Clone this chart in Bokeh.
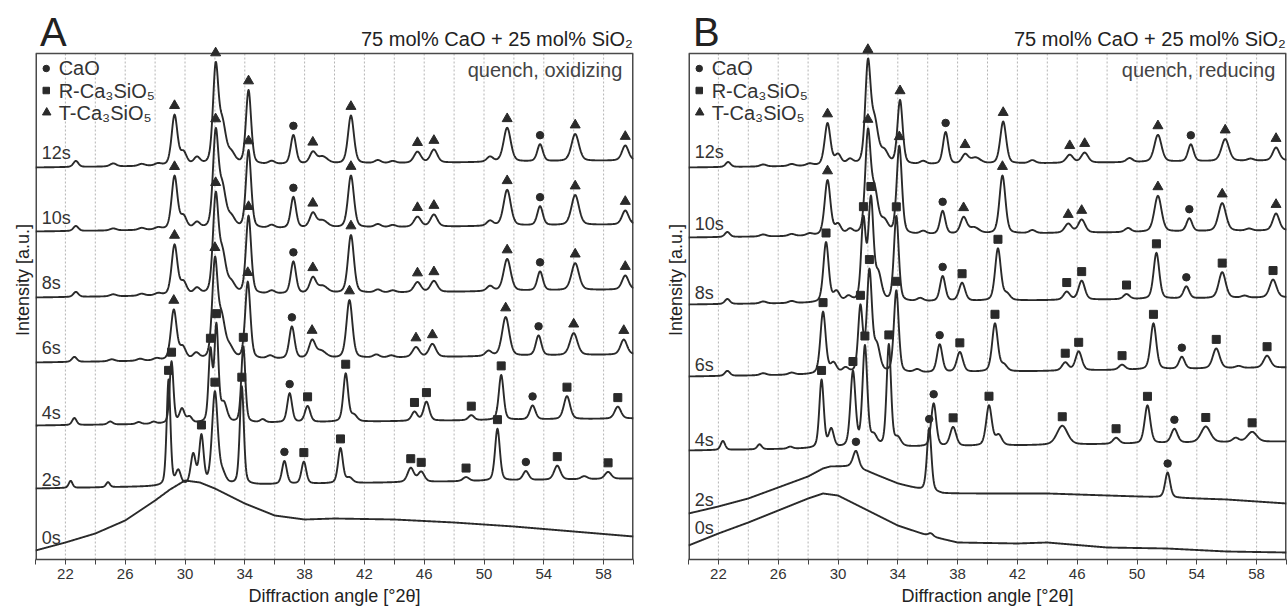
import numpy as np
from bokeh.plotting import figure
from bokeh.layouts import row
from bokeh.models import Range1d, FixedTicker
from bokeh.core.properties import value
from bokeh.embed import file_html
from bokeh.resources import INLINE

FONT = "Liberation Sans"
INK = "#2a2a2a"

# ---------------- data ----------------
X_TICKS = [22, 26, 30, 34, 38, 42, 46, 50, 54, 58]
X_MINOR = [20, 24, 28, 32, 36, 40, 44, 48, 52, 56, 60]
GRID_X = [22, 24, 26, 28, 30, 32, 34, 36, 38, 40, 42, 44, 46, 48, 50, 52, 54, 56, 58]
SCANS = ["12s", "10s", "8s", "6s", "4s", "2s", "0s"]
LEGEND_NAMES = ["CaO", "R-Ca\u2083SiO\u2085", "T-Ca\u2083SiO\u2085"]
LEGEND_MARKERS = ["circle", "square", "triangle"]
PHASE_MARKER = {"C": "circle", "R": "square", "T": "triangle"}

# ---- Panel A: quench, oxidizing ----
A_LABEL_Y = [407, 342, 277, 212, 147, 80, 22]

A12_bx = [20, 60]; A12_by = [392, 399]
A12_pos = [22.7, 25.2, 27.1, 28.2, 29.3, 29.9, 30.8, 32.05, 32.5, 33.1, 34.25, 35.8, 37.25, 38.55, 39.2, 41.1, 42.9, 43.9, 45.55, 46.65, 50.4, 51.55, 53.75, 56.1, 59.45]
A12_h = [6, 3, 2, 2, 50, 12, 7, 95, 38, 10, 74, 3, 29, 11, 7, 48, 3, 2, 11, 13, 5, 34, 17, 27, 15]
A12_w = [0.4, 0.5, 0.5, 0.5, 0.46, 0.5, 0.5, 0.43, 0.55, 0.6, 0.41, 0.5, 0.42, 0.5, 0.8, 0.47, 0.5, 0.5, 0.55, 0.55, 0.5, 0.57, 0.44, 0.6, 0.52]
A12_mk = [29.3, 32.05, 34.25, 37.25, 38.55, 41.1, 45.55, 46.65, 51.55, 53.75, 56.1, 59.45]
A12_ph = ["T", "T", "T", "C", "T", "T", "T", "T", "T", "C", "T", "T"]

A10_bx = [20, 60]; A10_by = [328, 335]
A10_pos = A12_pos
A10_h = [5, 2, 2, 2, 53, 12, 6, 93, 38, 10, 78, 3, 31, 14, 7, 52, 3, 2, 10, 12, 5, 36, 19, 30, 14]
A10_w = A12_w
A10_mk = A12_mk
A10_ph = A12_ph

A8_bx = [20, 60]; A8_by = [262, 270]
A8_pos = A12_pos
A8_h = [5, 2, 2, 2, 50, 12, 6, 95, 38, 10, 78, 3, 32, 15, 7, 58, 3, 2, 10, 11, 5, 32, 19, 27, 14]
A8_w = A12_w
A8_mk = A12_mk
A8_ph = A12_ph

A6_bx = [20, 60]; A6_by = [197, 205]
A6_pos = [22.6, 25.1, 27.0, 28.1, 29.25, 29.85, 30.75, 32.0, 32.45, 33.0, 34.2, 35.7, 37.15, 38.5, 39.1, 41.0, 42.8, 43.8, 45.45, 46.55, 50.3, 51.45, 53.65, 56.0, 59.35]
A6_h = [5, 2, 2, 2, 50, 12, 6, 95, 38, 10, 77, 3, 32, 17, 7, 58, 3, 2, 10, 13, 5, 39, 20, 22, 15]
A6_w = A12_w
A6_mk = [29.25, 32.0, 34.2, 37.15, 38.5, 41.0, 45.45, 46.55, 51.45, 53.65, 56.0, 59.35]
A6_ph = A12_ph

A4_bx = [20, 60]; A4_by = [134, 141]
A4_pos = [22.6, 25.0, 26.9, 27.9, 29.1, 29.8, 30.3, 31.7, 32.1, 32.6, 33.9, 35.2, 37.0, 38.2, 40.75, 41.3, 45.35, 46.15, 49.15, 51.15, 53.25, 55.55, 58.95]
A4_h = [7, 3, 2, 2, 62, 14, 6, 70, 95, 18, 76, 3, 29, 16, 48, 6, 9, 19, 5, 45, 14, 23, 12]
A4_w = [0.35, 0.4, 0.4, 0.4, 0.3, 0.4, 0.4, 0.3, 0.32, 0.5, 0.32, 0.4, 0.38, 0.42, 0.38, 0.5, 0.45, 0.45, 0.45, 0.38, 0.45, 0.5, 0.5]
A4_mk = [29.1, 31.7, 32.1, 33.9, 37.0, 38.2, 40.75, 45.35, 46.15, 49.15, 51.15, 53.25, 55.55, 58.95]
A4_ph = ["R", "R", "R", "R", "C", "R", "R", "R", "R", "R", "R", "C", "R", "R"]

A2_bx = [20, 60]; A2_by = [71, 81]
A2_pos = [22.35, 24.85, 28.9, 29.55, 30.55, 31.1, 32.0, 32.5, 33.8, 36.65, 37.95, 40.4, 41.0, 45.1, 45.8, 48.8, 50.9, 52.8, 54.9, 56.7, 58.3]
A2_h = [7, 5, 106, 14, 30, 48, 92, 10, 98, 23, 22, 35, 5, 14, 10, 4, 52, 9, 14, 3, 7]
A2_w = [0.3, 0.3, 0.3, 0.4, 0.4, 0.35, 0.45, 0.5, 0.32, 0.38, 0.38, 0.38, 0.5, 0.5, 0.5, 0.5, 0.38, 0.45, 0.5, 0.5, 0.5]
A2_mk = [28.9, 31.1, 32.0, 33.8, 36.65, 37.95, 40.4, 45.1, 45.8, 48.8, 50.9, 52.8, 54.9, 58.3]
A2_ph = ["R", "R", "R", "R", "C", "R", "R", "R", "R", "R", "R", "C", "R", "R"]

A0_bx = [20, 22, 24, 26, 28, 29, 30, 31, 32, 34, 36, 38, 40, 44, 48, 52, 56, 60]
A0_by = [9, 17, 26, 39, 59, 70, 79, 77, 71, 56, 44, 40, 41, 40, 37, 33, 28, 23]
A0_pos = []; A0_h = []; A0_w = []; A0_mk = []; A0_ph = []

# ---- Panel B: quench, reducing ----
B_LABEL_Y = [408, 336, 267, 195, 120, 60, 32]

B12_bx = [20, 60]; B12_by = [392, 399]
B12_pos = [22.65, 25.0, 26.9, 28.1, 29.3, 30.0, 30.8, 32.0, 32.45, 33.1, 34.15, 35.7, 37.2, 38.5, 39.2, 41.05, 43.0, 45.5, 46.5, 49.5, 51.4, 53.6, 55.9, 57.6, 59.3]
B12_h = [5, 2, 2, 2, 42, 10, 5, 98, 40, 12, 64, 3, 32, 9, 6, 42, 3, 8, 10, 4, 27, 17, 22, 2, 13]
B12_w = [0.4, 0.5, 0.5, 0.5, 0.46, 0.5, 0.5, 0.43, 0.55, 0.6, 0.41, 0.5, 0.42, 0.5, 0.8, 0.47, 0.5, 0.55, 0.55, 0.5, 0.57, 0.44, 0.6, 0.5, 0.52]
B12_mk = [29.3, 32.0, 34.15, 37.2, 38.5, 41.05, 45.5, 46.5, 51.4, 53.6, 55.9, 59.3]
B12_ph = ["T", "T", "T", "C", "T", "T", "T", "T", "T", "C", "T", "T"]

B10_bx = [20, 60]; B10_by = [322, 329]
B10_pos = [22.6, 25.0, 26.9, 28.1, 29.3, 30.0, 30.8, 32.0, 32.45, 33.1, 34.1, 35.7, 37.0, 38.4, 39.1, 41.0, 43.0, 45.4, 46.3, 49.4, 51.4, 53.5, 55.7, 57.5, 59.3]
B10_h = [5, 2, 2, 2, 55, 10, 5, 98, 40, 12, 88, 3, 23, 16, 6, 58, 3, 9, 13, 4, 36, 13, 28, 2, 17]
B10_w = B12_w
B10_mk = [29.3, 32.0, 34.1, 37.0, 38.4, 41.0, 45.4, 46.3, 51.4, 53.5, 55.7, 59.3]
B10_ph = B12_ph

B8_bx = [20, 60]; B8_by = [255, 262]
B8_pos = [22.6, 25.0, 26.9, 29.2, 29.9, 30.7, 31.7, 32.2, 32.7, 33.9, 35.5, 37.0, 38.3, 40.7, 41.3, 45.3, 46.3, 49.3, 51.3, 53.3, 55.7, 57.2, 59.1]
B8_h = [5, 2, 2, 60, 10, 5, 80, 100, 25, 85, 3, 25, 18, 52, 6, 8, 19, 5, 46, 12, 26, 2, 18]
B8_w = [0.4, 0.5, 0.5, 0.42, 0.5, 0.5, 0.36, 0.4, 0.5, 0.38, 0.5, 0.42, 0.48, 0.45, 0.5, 0.5, 0.5, 0.5, 0.45, 0.45, 0.55, 0.5, 0.55]
B8_mk = [29.2, 31.7, 32.2, 33.9, 37.0, 38.3, 40.7, 45.3, 46.3, 49.3, 51.3, 53.3, 55.7, 59.1]
B8_ph = ["R", "R", "R", "R", "C", "R", "R", "R", "R", "R", "R", "C", "R", "R"]

B6_bx = [20, 60]; B6_by = [183, 192]
B6_pos = [22.6, 25.0, 26.9, 29.0, 29.7, 30.5, 31.5, 32.1, 32.6, 33.9, 35.3, 36.8, 38.15, 40.5, 41.1, 45.2, 46.1, 49.0, 51.1, 53.0, 55.3, 56.8, 58.7]
B6_h = [5, 2, 2, 62, 10, 5, 65, 100, 25, 82, 3, 28, 20, 48, 6, 8, 19, 5, 46, 12, 20, 2, 12]
B6_w = B8_w
B6_mk = [29.0, 31.5, 32.1, 33.9, 36.8, 38.15, 40.5, 45.2, 46.1, 49.0, 51.1, 53.0, 55.3, 58.7]
B6_ph = ["R", "R", "R", "R", "C", "R", "R", "R", "R", "R", "R", "C", "R", "R"]

B4_bx = [20, 60]; B4_by = [109, 118]
B4_pos = [22.3, 24.75, 26.8, 28.9, 29.55, 31.0, 31.8, 32.4, 33.4, 34.0, 36.4, 37.7, 40.1, 40.75, 45.0, 48.6, 50.7, 52.5, 54.6, 56.6, 57.7]
B4_h = [9, 5, 2, 68, 18, 75, 100, 10, 102, 8, 43, 19, 40, 10, 19, 6, 38, 14, 16, 4, 10]
B4_w = [0.35, 0.35, 0.4, 0.35, 0.4, 0.4, 0.38, 0.5, 0.35, 0.5, 0.4, 0.48, 0.45, 0.5, 0.85, 0.5, 0.45, 0.5, 0.75, 0.5, 0.75]
B4_mk = [28.9, 31.0, 31.8, 33.4, 36.4, 37.7, 40.1, 45.0, 48.6, 50.7, 52.5, 54.6, 57.7]
B4_ph = ["R", "R", "R", "R", "C", "R", "R", "R", "R", "R", "C", "R", "R"]

B2_bx = [20, 22, 24, 26, 28, 29, 29.5, 30.9, 32, 34, 35.5, 37, 38, 44, 48, 52, 56, 60]
B2_by = [46, 53, 61, 72, 83, 91, 93, 93, 88, 76, 70, 66, 66, 66, 64, 62, 60, 56]
B2_pos = [31.2, 36.1, 52.05]
B2_h = [17, 63, 25]
B2_w = [0.45, 0.35, 0.4]
B2_mk = [31.2, 36.1, 52.05]
B2_ph = ["C", "C", "C"]

B0_bx = [20, 22, 24, 26, 28, 29, 30, 32, 34, 36, 38, 42, 44, 48, 52, 56, 60]
B0_by = [14, 26, 37, 49, 61, 66, 64, 49, 34, 24, 17, 16, 17, 12, 11, 8, 7]
B0_pos = [36.2]; B0_h = [3]; B0_w = [0.4]; B0_mk = []; B0_ph = []

# ---------------- drawing ----------------
XS = np.linspace(20, 60, 1601)
BOX_TOP = 506
MARK_GAP = 9


def pattern(bx, by, pos, h, w):
    y = np.interp(XS, bx, by).astype(float)
    for c, a, fw in zip(pos, h, w):
        d = (XS - c) / fw
        y += a * (0.35 / (1 + 4 * d * d) + 0.65 * np.exp(-4 * np.log(2) * d * d))
    return y


def make_panel(letter, subtitle, scans, label_y, width, left, right):
    p = figure(width=width, height=608, x_range=Range1d(20, 60), y_range=Range1d(0, 559),
               output_backend="svg", toolbar_location=None,
               min_border_left=left, min_border_right=right, min_border_top=0, min_border_bottom=49)
    p.outline_line_color = None
    p.grid.visible = False
    p.background_fill_color = "white"
    p.border_fill_color = "white"

    xa = p.xaxis[0]
    xa.ticker = FixedTicker(ticks=X_TICKS, minor_ticks=X_MINOR)
    xa.major_tick_out = 5; xa.major_tick_in = 0
    xa.minor_tick_out = 5; xa.minor_tick_in = 0
    xa.axis_line_color = "#444444"; xa.axis_line_width = 1.5
    xa.major_tick_line_color = "#444444"; xa.minor_tick_line_color = "#444444"
    xa.major_label_text_font = FONT; xa.major_label_text_font_size = "15px"
    xa.major_label_text_color = "#333333"; xa.major_label_standoff = 4
    xa.axis_label = "Diffraction angle [\u00b02\u03b8]"
    xa.axis_label_text_font = FONT; xa.axis_label_text_font_size = "18px"
    xa.axis_label_text_font_style = "normal"; xa.axis_label_text_color = "#222222"
    xa.axis_label_standoff = 4

    ya = p.yaxis[0]
    ya.ticker = FixedTicker(ticks=[])
    ya.axis_line_color = None
    ya.major_tick_out = 0; ya.minor_tick_out = 0
    ya.major_label_text_font_size = "0px"
    ya.axis_label = "Intensity [a.u.]"
    ya.axis_label_text_font = FONT; ya.axis_label_text_font_size = "18px"
    ya.axis_label_text_font_style = "normal"; ya.axis_label_text_color = "#222222"
    ya.axis_label_standoff = 3

    # dotted vertical grid and frame box
    p.segment(x0=GRID_X, y0=[0] * len(GRID_X), x1=GRID_X, y1=[BOX_TOP] * len(GRID_X),
              line_color="#b4b4b4", line_width=1, line_dash="2 2")
    p.line([20, 60], [BOX_TOP, BOX_TOP], line_color="#4a4a4a", line_width=1.6)
    p.segment(x0=[20, 60], y0=[0, 0], x1=[20, 60], y1=[BOX_TOP, BOX_TOP],
              line_color="#4a4a4a", line_width=3)

    for (bx, by, pos, h, w, mk, ph) in scans:
        y = pattern(bx, by, pos, h, w)
        p.line(XS, y, line_color=INK, line_width=1.9, line_join="round")
        for code, mname in PHASE_MARKER.items():
            mx, my = [], []
            for m, c in zip(mk, ph):
                if c != code:
                    continue
                sel = np.abs(XS - m) <= 0.12
                mx.append(m)
                my.append(float(y[sel].max()) + MARK_GAP)
            if mx:
                size = {"triangle": 10, "square": 8, "circle": 7.5}[mname]
                p.scatter(mx, my, marker=mname, size=size, fill_color=INK, line_color=INK)

    # scan labels
    p.text(x=[20.42] * len(SCANS), y=label_y, text=SCANS, text_font=value(FONT),
           text_font_size="18px", text_color="#333333", text_baseline="alphabetic")

    # legend (inside frame)
    p.scatter([20.72, 20.72, 20.75], [491, 469, 447], marker=LEGEND_MARKERS,
              size=[6.5, 6.5, 8.5], fill_color=INK, line_color=INK)
    p.text(x=[21.55] * 3, y=[492, 469, 447], text=LEGEND_NAMES, text_font=value(FONT),
           text_font_size="20px", text_color="#333333", text_baseline="alphabetic")

    # titles
    p.text(x=[20.3], y=[528], text=[letter], text_font=value(FONT), text_font_size="40px",
           text_color="#222222", text_baseline="alphabetic")
    p.text(x=[59.95], y=[521], text=["75 mol% CaO + 25 mol% SiO\u2082"], text_font=value(FONT),
           text_font_size="20px", text_color="#222222", text_align="right", text_baseline="alphabetic")
    p.text(x=[59.25], y=[490], text=[subtitle], text_font=value(FONT), text_font_size="20px",
           text_color="#444444", text_align="right", text_baseline="alphabetic")
    return p


A_scans = [
    (A12_bx, A12_by, A12_pos, A12_h, A12_w, A12_mk, A12_ph),
    (A10_bx, A10_by, A10_pos, A10_h, A10_w, A10_mk, A10_ph),
    (A8_bx, A8_by, A8_pos, A8_h, A8_w, A8_mk, A8_ph),
    (A6_bx, A6_by, A6_pos, A6_h, A6_w, A6_mk, A6_ph),
    (A4_bx, A4_by, A4_pos, A4_h, A4_w, A4_mk, A4_ph),
    (A2_bx, A2_by, A2_pos, A2_h, A2_w, A2_mk, A2_ph),
    (A0_bx, A0_by, A0_pos, A0_h, A0_w, A0_mk, A0_ph),
]
B_scans = [
    (B12_bx, B12_by, B12_pos, B12_h, B12_w, B12_mk, B12_ph),
    (B10_bx, B10_by, B10_pos, B10_h, B10_w, B10_mk, B10_ph),
    (B8_bx, B8_by, B8_pos, B8_h, B8_w, B8_mk, B8_ph),
    (B6_bx, B6_by, B6_pos, B6_h, B6_w, B6_mk, B6_ph),
    (B4_bx, B4_by, B4_pos, B4_h, B4_w, B4_mk, B4_ph),
    (B2_bx, B2_by, B2_pos, B2_h, B2_w, B2_mk, B2_ph),
    (B0_bx, B0_by, B0_pos, B0_h, B0_w, B0_mk, B0_ph),
]

pA = make_panel("A", "quench, oxidizing", A_scans, A_LABEL_Y, 655, 35, 22)
pB = make_panel("B", "quench, reducing", B_scans, B_LABEL_Y, 633, 33, 2)

layout = row(pA, pB)
open("out.html", "w").write(file_html(layout, INLINE))
